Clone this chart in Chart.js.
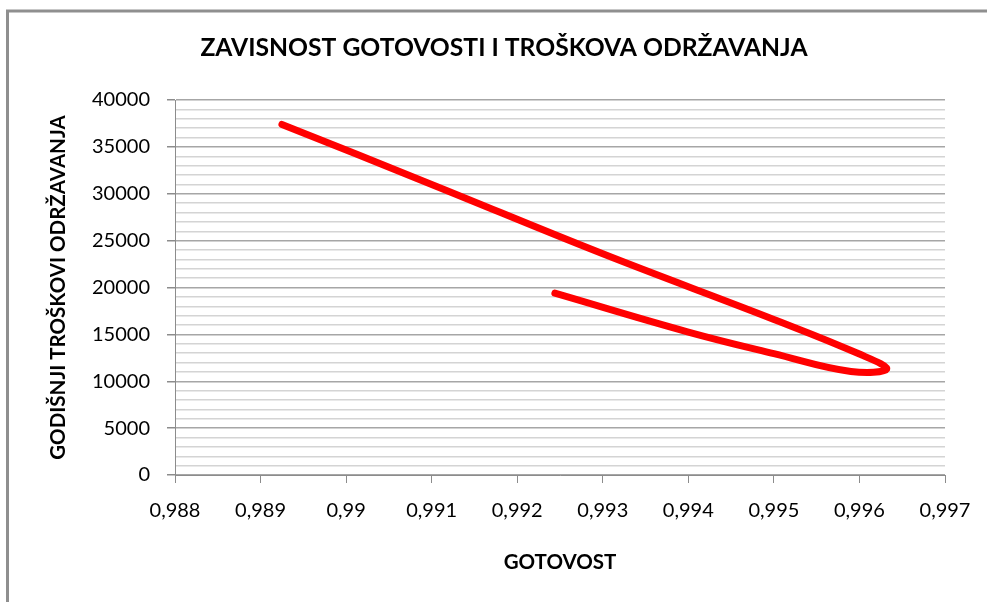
<!DOCTYPE html>
<html>
<head>
<meta charset="utf-8">
<script src="https://cdn.jsdelivr.net/npm/chart.js@4"></script>
<style>
  html, body { margin: 0; padding: 0; background: #fff; }
  #wrap { width: 987px; height: 602px; position: relative; }
</style>
</head>
<body>
<div id="wrap"><canvas id="chart" width="987" height="602"></canvas></div>
<script>
// values
const availability = [0.98925, 0.9910, 0.9930, 0.9950, 0.9960, 0.99632, 0.9959, 0.9950, 0.9940, 0.99244];
const cost = [37400, 31000, 23600, 16600, 12900, 11300, 11050, 12950, 15250, 19400];

const chartTitle = "ZAVISNOST GOTOVOSTI I TROŠKOVA ODRŽAVANJA";
const xTitle = "GOTOVOST";
const yTitle = "GODIŠNJI TROŠKOVI ODRŽAVANJA";

const FONT = "Lato, 'Open Sans', sans-serif";

const frame = {
  id: "frame",
  beforeDraw: (chart) => {
    const ctx = chart.ctx;
    ctx.save();
    ctx.fillStyle = "#ffffff";
    ctx.fillRect(0, 0, chart.width, chart.height);
    ctx.strokeStyle = "#8f8f8f";
    ctx.lineWidth = 3;
    ctx.beginPath();
    ctx.moveTo(7.5, chart.height);
    ctx.lineTo(7.5, 11);
    ctx.lineTo(chart.width, 11);
    ctx.stroke();
    ctx.restore();
  },
};

const formatX = (v) => String(Number(v.toFixed(3))).replace(".", ",");

new Chart(document.getElementById("chart"), {
  type: "scatter",
  data: {
    datasets: [
      {
        data: availability.map((x, i) => ({ x: x, y: cost[i] })),
        showLine: true,
        borderColor: "#ff0000",
        borderWidth: 7,
        borderCapStyle: "round",
        borderJoinStyle: "round",
        tension: 0.4,
        pointRadius: 0,
        pointHoverRadius: 0,
      },
    ],
  },
  plugins: [frame],
  options: {
    responsive: false,
    animation: false,
    layout: { padding: { left: 63, right: 42, top: 0, bottom: 27 } },
    plugins: {
      legend: { display: false },
      tooltip: { enabled: false },
      title: {
        display: true,
        text: chartTitle,
        color: "#000",
        font: { family: FONT, size: 24.7, weight: "bold" },
        padding: { top: 33, bottom: 37.4 },
      },
    },
    scales: {
      x: {
        type: "linear",
        min: 0.988,
        max: 0.997,
        afterFit: (scale) => { scale.height = 100; },
        ticks: {
          stepSize: 0.001,
          color: "#000",
          padding: 16,
          font: { family: FONT, size: 20 },
          callback: (v) => formatX(v),
          maxRotation: 0,
        },
        grid: {
          drawOnChartArea: false,
          drawTicks: true,
          tickLength: 8,
          tickColor: "#8c8c8c",
        },
        border: { color: "#8c8c8c", width: 1 },
        title: {
          display: true,
          text: xTitle,
          color: "#000",
          font: { family: FONT, size: 20.5, weight: "bold" },
          padding: { top: 0, bottom: 0 },
        },
      },
      y: {
        type: "linear",
        min: 0,
        max: 40000,
        afterFit: (scale) => { scale.width = 112; },
        ticks: {
          stepSize: 1000,
          autoSkip: false,
          color: "#000",
          padding: 17,
          font: { family: FONT, size: 20 },
          callback: (v) => (v % 5000 === 0 ? String(v) : ""),
        },
        grid: {
          tickLength: 8,
          color: (c) => (c.tick && c.tick.value % 5000 === 0 ? "#a6a6a6" : "#d4d4d4"),
          tickColor: (c) => (c.tick && c.tick.value % 5000 === 0 ? "#8c8c8c" : "rgba(0,0,0,0)"),
          lineWidth: 1.5,
        },
        border: { color: "#8c8c8c", width: 1 },
        title: {
          display: true,
          text: yTitle,
          color: "#000",
          font: { family: FONT, size: 20.5, weight: "bold" },
          padding: { top: -17.3, bottom: 0 },
        },
      },
    },
  },
});
</script>
</body>
</html>
